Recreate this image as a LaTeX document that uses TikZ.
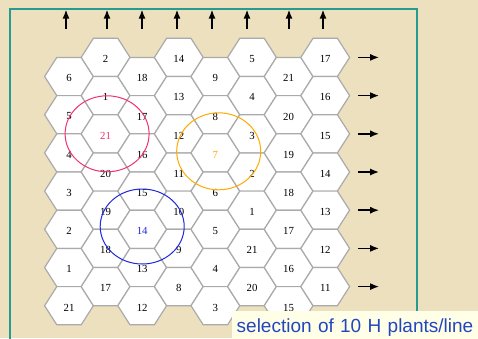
\documentclass[tikz,border=0pt]{standalone}
\usepackage{fontspec}
\setmainfont{Liberation Serif}
\newfontfamily\captionfont{Liberation Sans}
\usepackage{tikz}
\usetikzlibrary{arrows.meta,positioning,calc}
\definecolor{parchment}{RGB}{236,224,190}
\definecolor{frameteal}{RGB}{40,155,145}
\definecolor{hexgray}{RGB}{170,170,170}
\definecolor{selpink}{RGB}{240,50,110}
\definecolor{selorange}{RGB}{255,170,0}
\definecolor{selblue}{RGB}{30,40,220}
\definecolor{captionblue}{RGB}{35,70,190}
\definecolor{captionfill}{RGB}{255,255,232}
\tikzset{
  % Base styles
  field base/.style={
    x=1pt, y=-1pt,
    >={Latex[length=9pt,width=7pt]},
  },
  % Hexagonal plots
  hex cell/.style={draw=hexgray, line width=1.2pt, fill=white},
  cell label/.style={font=\fontsize{10.8}{12}\selectfont, inner sep=0pt, yshift=-1.8pt},
  % Selection circles
  sel circle/.style={line width=1pt},
  % Arrows, frame and caption
  flow arrow/.style={->, line width=1.7pt, black},
  frame line/.style={draw=frameteal, line width=1.5pt},
  caption box/.style={fill=captionfill, text=captionblue,
    font=\captionfont\fontsize{19}{22}\selectfont,
    text width=260pt, align=left, inner xsep=4.5pt, inner ysep=8pt, anchor=north west},
}

\begin{document}
\begin{tikzpicture}[field base]
  \useasboundingbox (0,0) rectangle (478,338);
  \fill[parchment] (0,0) rectangle (478,338);
  \draw[frame line] (10,340) |- (417,9) -- (417,340);

  % hexagonal field, one list per column
  \foreach \col/\labels in {1/{6,5,4,3,2,1,21}, 2/{2,1,\textcolor{selpink}{21},20,19,18,17},
      3/{18,17,16,15,\textcolor{selblue}{14},13,12}, 4/{14,13,12,11,10,9,8},
      5/{9,8,\textcolor{selorange}{7},6,5,4,3}, 6/{5,4,3,2,1,21,20},
      7/{21,20,19,18,17,16,15}, 8/{17,16,15,14,13,12,11}} {
    \foreach \lab [count=\row] in \labels {
      \pgfmathsetmacro{\hx}{69+36.6*(\col-1)}
      \pgfmathsetmacro{\hy}{76.5+38.2*(\row-1)-19.1*(1-mod(\col,2))}
      \coordinate (c\col-\row) at (\hx,\hy);
      \draw[hex cell] (c\col-\row) ++(-24.4,0) -- ++(12.2,-19.1) -- ++(24.4,0)
        -- ++(12.2,19.1) -- ++(-12.2,19.1) -- ++(-24.4,0) -- cycle;
      \node[cell label] (h\col-\row) at (c\col-\row) {\lab};
    }
  }

  % selected plants
  \draw[sel circle, selpink] ([shift={(1.5,0)}]c2-3) ellipse [x radius=42pt, y radius=38pt];
  \draw[sel circle, selorange] ([shift={(3.3,-1.6)}]c5-3) ellipse [x radius=42pt, y radius=38.5pt];
  \draw[sel circle, selblue] ([shift={(0,-2.8)}]c3-5) ellipse [x radius=42pt, y radius=37.5pt];

  % directions
  \foreach \ax [count=\i] in {66,107,142,177,212,247,289,323} {
    \coordinate (tail\i) at (\ax,28.5);
    \coordinate (tip\i) at (\ax,9.5);
    \draw[flow arrow] (tail\i) -- (tip\i);
  }
  \foreach \row in {1,...,7}
    \draw[flow arrow] ([xshift=33pt]c8-\row) -- ([xshift=54pt]c8-\row);

  \node[caption box] (caption) at (232,310.5) {selection of 10 H plants/line};
\end{tikzpicture}
\end{document}
